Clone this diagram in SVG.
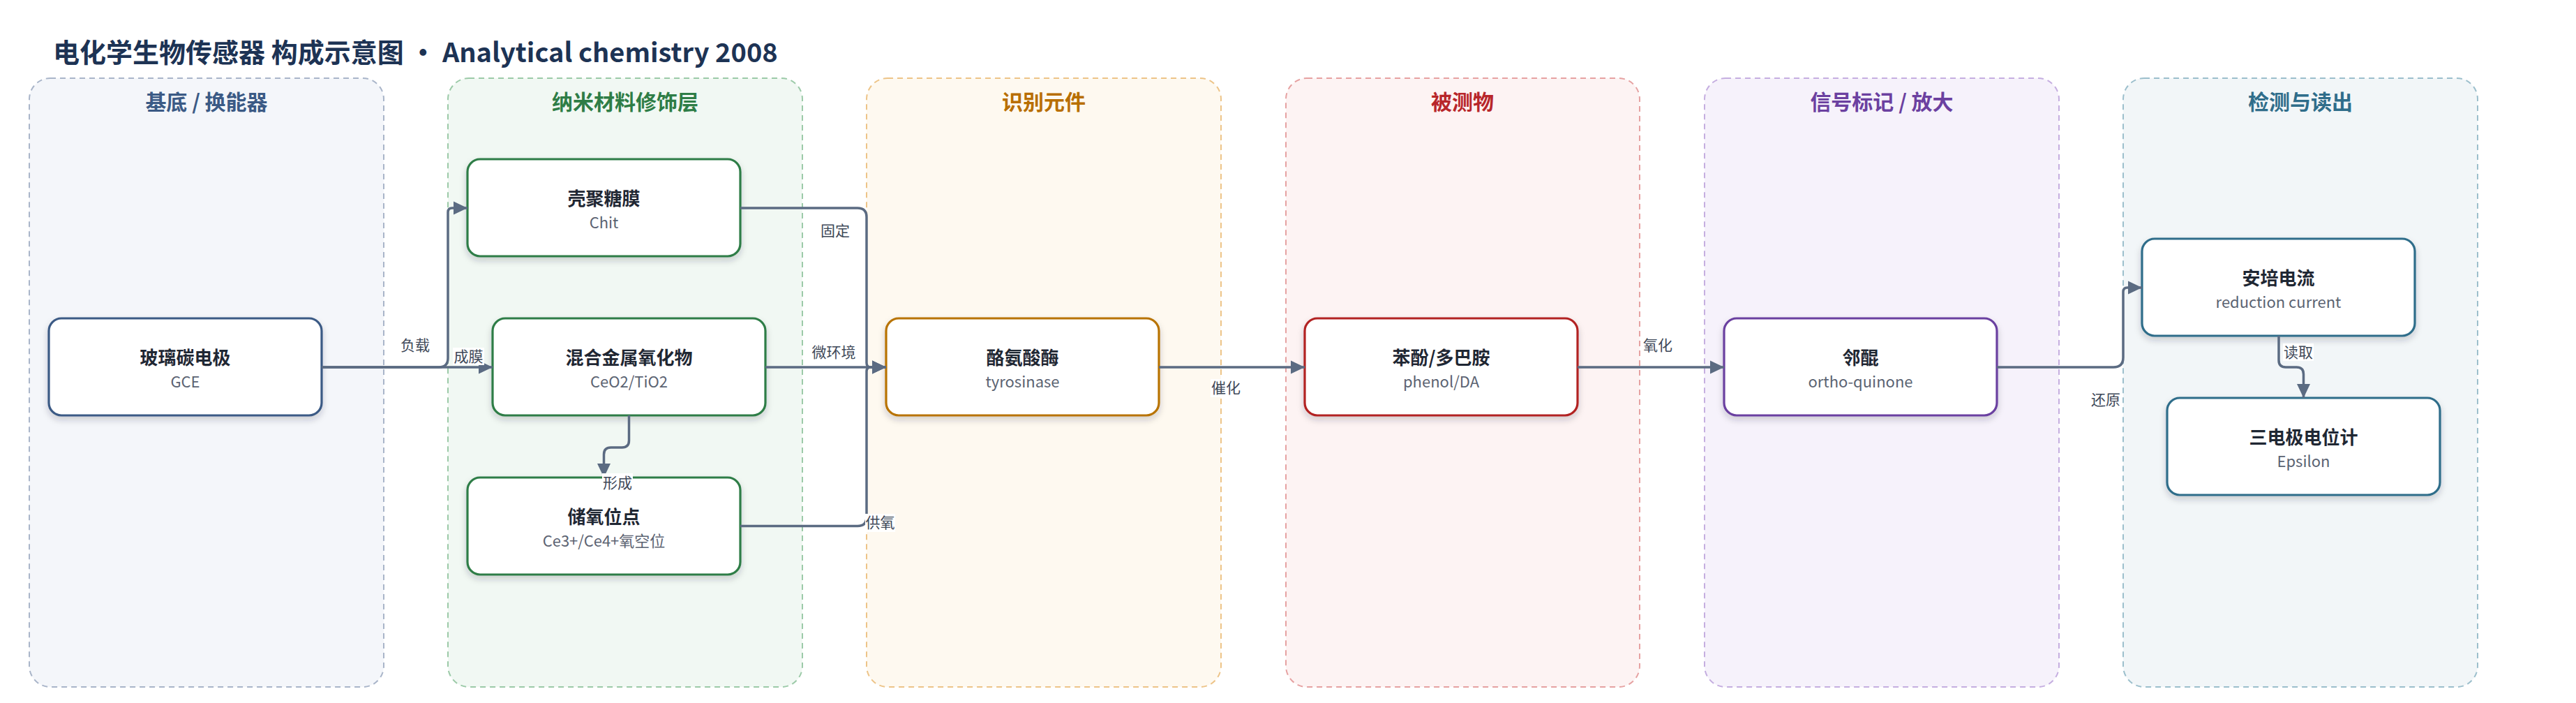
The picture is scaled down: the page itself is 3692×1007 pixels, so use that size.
<svg xmlns="http://www.w3.org/2000/svg" width="3692" height="1007" viewBox="0 0 3692 1007">
<style>
text{font-family:"Noto Sans CJK SC","Noto Sans",sans-serif}
.title{font-size:38px;font-weight:700;fill:#1d3354}
.gbox{stroke-width:2;stroke-dasharray:8 6}
.gtitle{font-size:30px;font-weight:700;text-anchor:middle}
.node rect{fill:#fff;stroke-width:3.2}
.nt{font-size:26px;font-weight:700;fill:#1f2733;text-anchor:middle}
.ns{font-size:22px;fill:#5b6372;text-anchor:middle}
.edge{fill:none;stroke:#5b6b82;stroke-width:3.5;marker-end:url(#arr)}
.lbg{fill:#fff}
.lbl{font-size:21px;fill:#3e4858;text-anchor:middle}
</style>
<defs>
<marker id="arr" viewBox="0 0 20 20" refX="20" refY="10" markerWidth="20" markerHeight="20" markerUnits="userSpaceOnUse" orient="auto">
<path d="M0,0.5 L20,10 L0,19.5 Z" fill="#5b6b82"/>
</marker>
<filter id="sh" x="-10%" y="-20%" width="120%" height="150%">
<feDropShadow dx="0" dy="5" stdDeviation="5" flood-color="#1f2a3a" flood-opacity="0.2"/>
</filter>
</defs>
<rect width="3692" height="1007" fill="#fff"/>
<text class="title" x="76" y="89">电化学生物传感器 构成示意图 • Analytical chemistry 2008</text>

<g id="groups">
<g id="g-substrate">
<rect class="gbox" x="42" y="112" width="508" height="872" rx="30" fill="#f4f6fa" stroke="#a9b5c9"/>
<text class="gtitle" x="296" y="157" fill="#3b5a85">基底 / 换能器</text>
</g>
<g id="g-nano">
<rect class="gbox" x="642" y="112" width="508" height="872" rx="30" fill="#f1f8f3" stroke="#9ccaa8"/>
<text class="gtitle" x="896" y="157" fill="#2e7d46">纳米材料修饰层</text>
</g>
<g id="g-recog">
<rect class="gbox" x="1242" y="112" width="508" height="872" rx="30" fill="#fef9f0" stroke="#edc488"/>
<text class="gtitle" x="1496" y="157" fill="#b86e00">识别元件</text>
</g>
<g id="g-analyte">
<rect class="gbox" x="1843" y="112" width="507" height="872" rx="30" fill="#fdf3f3" stroke="#e6a2a2"/>
<text class="gtitle" x="2096" y="157" fill="#b8262a">被测物</text>
</g>
<g id="g-signal">
<rect class="gbox" x="2443" y="112" width="508" height="872" rx="30" fill="#f6f2fb" stroke="#c5aee0"/>
<text class="gtitle" x="2697" y="157" fill="#6b40a0">信号标记 / 放大</text>
</g>
<g id="g-detect">
<rect class="gbox" x="3043" y="112" width="508" height="872" rx="30" fill="#f2f6f8" stroke="#9cbfcc"/>
<text class="gtitle" x="3297" y="157" fill="#2f6d8a">检测与读出</text>
</g>
</g>

<g id="nodes">
<g id="n-gce" class="node">
<rect x="70" y="456" width="391" height="139" rx="18" stroke="#3b5a85" filter="url(#sh)"/>
<text class="nt" x="265.5" y="522">玻璃碳电极</text>
<text class="ns" x="265.5" y="555">GCE</text>
</g>
<g id="n-chit" class="node">
<rect x="670" y="228" width="391" height="139" rx="18" stroke="#2e7d46" filter="url(#sh)"/>
<text class="nt" x="865.5" y="294">壳聚糖膜</text>
<text class="ns" x="865.5" y="327">Chit</text>
</g>
<g id="n-ceo2" class="node">
<rect x="706" y="456" width="391" height="139" rx="18" stroke="#2e7d46" filter="url(#sh)"/>
<text class="nt" x="901.5" y="522">混合金属氧化物</text>
<text class="ns" x="901.5" y="555">CeO2/TiO2</text>
</g>
<g id="n-oxsite" class="node">
<rect x="670" y="684" width="391" height="139" rx="18" stroke="#2e7d46" filter="url(#sh)"/>
<text class="nt" x="865.5" y="750">储氧位点</text>
<text class="ns" x="865.5" y="783">Ce3+/Ce4+氧空位</text>
</g>
<g id="n-tyr" class="node">
<rect x="1270" y="456" width="391" height="139" rx="18" stroke="#b87300" filter="url(#sh)"/>
<text class="nt" x="1465.5" y="522">酪氨酸酶</text>
<text class="ns" x="1465.5" y="555">tyrosinase</text>
</g>
<g id="n-phenol" class="node">
<rect x="1870" y="456" width="391" height="139" rx="18" stroke="#b22222" filter="url(#sh)"/>
<text class="nt" x="2065.5" y="522">苯酚/多巴胺</text>
<text class="ns" x="2065.5" y="555">phenol/DA</text>
</g>
<g id="n-quinone" class="node">
<rect x="2471" y="456" width="391" height="139" rx="18" stroke="#6a3fa0" filter="url(#sh)"/>
<text class="nt" x="2666.5" y="522">邻醌</text>
<text class="ns" x="2666.5" y="555">ortho-quinone</text>
</g>
<g id="n-current" class="node">
<rect x="3070" y="342" width="391" height="139" rx="18" stroke="#2f6d8a" filter="url(#sh)"/>
<text class="nt" x="3265.5" y="408">安培电流</text>
<text class="ns" x="3265.5" y="441">reduction current</text>
</g>
<g id="n-potentio" class="node">
<rect x="3106" y="570" width="391" height="139" rx="18" stroke="#2f6d8a" filter="url(#sh)"/>
<text class="nt" x="3301.5" y="636">三电极电位计</text>
<text class="ns" x="3301.5" y="669">Epsilon</text>
</g>
</g>

<g id="connectors">
<path class="edge" d="M461,526 H629 Q642,526 642,513 V304 Q642,298 648,298 H670"/>
<path class="edge" d="M461,526 H706"/>
<path class="edge" d="M901.5,595 V631 Q901.5,641 891.5,641 H875.5 Q865.5,641 865.5,651 V684"/>
<path class="edge" d="M1061,298 H1229 Q1242,298 1242,311 V520 Q1242,526 1248,526 H1270"/>
<path class="edge" d="M1097,526 H1270"/>
<path class="edge" d="M1061,753.5 H1229 Q1242,753.5 1242,740.5 V532 Q1242,526 1248,526 H1270"/>
<path class="edge" d="M1661,526 H1870"/>
<path class="edge" d="M2261,526 H2471"/>
<path class="edge" d="M2862,526 H3029 Q3043,526 3043,512 V418 Q3043,412 3049,412 H3070"/>
<path class="edge" d="M3266,481 V516 Q3266,526 3276,526 H3291.5 Q3301.5,526 3301.5,536 V570"/>
<g id="labels">
<text class="lbl" x="595" y="502">负载</text>
<rect class="lbg" x="649" y="498" width="45" height="25"/>
<text class="lbl" x="671.5" y="518">成膜</text>
<rect class="lbg" x="863" y="678" width="44" height="26"/>
<text class="lbl" x="885" y="699">形成</text>
<text class="lbl" x="1197" y="338">固定</text>
<rect class="lbg" x="1163" y="492" width="65" height="26"/>
<text class="lbl" x="1195" y="512">微环境</text>
<rect class="lbg" x="1240" y="736" width="43" height="26"/>
<text class="lbl" x="1261.5" y="756">供氧</text>
<rect class="lbg" x="1735" y="543" width="44" height="26"/>
<text class="lbl" x="1757" y="563">催化</text>
<rect class="lbg" x="2354" y="482" width="44" height="26"/>
<text class="lbl" x="2376" y="502">氧化</text>
<rect class="lbg" x="2996" y="560" width="44" height="26"/>
<text class="lbl" x="3018" y="580">还原</text>
<rect class="lbg" x="3272" y="492" width="44" height="25"/>
<text class="lbl" x="3294" y="512">读取</text>
</g>
</g>
</svg>
